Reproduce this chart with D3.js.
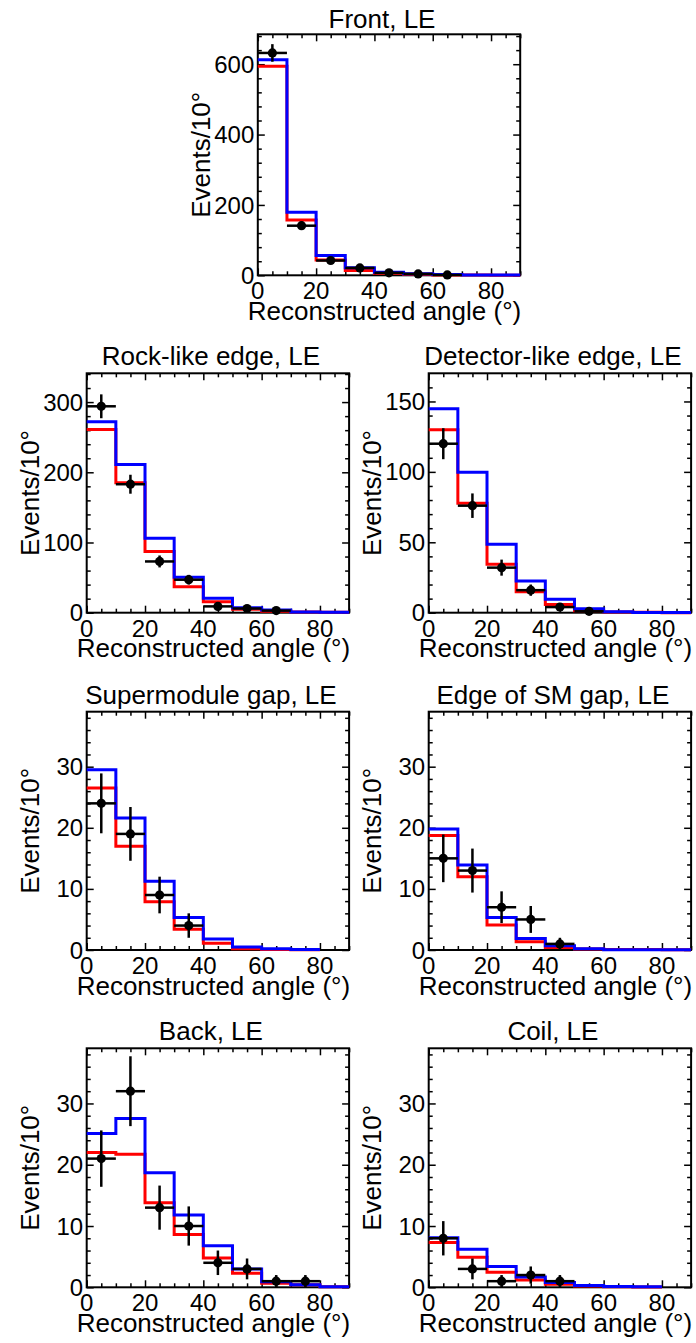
<!DOCTYPE html>
<html>
<head>
<meta charset="utf-8">
<script src="https://cdn.jsdelivr.net/npm/d3@7"></script>
<style>
  body { margin: 0; background: #fff; }
  svg { display: block; }
  text { font-family: "Liberation Sans", Arial, Helvetica, sans-serif; fill: #000; }
</style>
</head>
<body>
<svg id="chart" width="696" height="1343"></svg>
<script>
// Bin edges of the reconstructed-angle histograms (degrees)
const binEdges = [0, 10, 20, 30, 40, 50, 60, 70, 80, 90];
const xTickLabels = [0, 20, 40, 60, 80];

const panelTitles = [
  "Front, LE",
  "Rock-like edge, LE",
  "Detector-like edge, LE",
  "Supermodule gap, LE",
  "Edge of SM gap, LE",
  "Back, LE",
  "Coil, LE"
];

// Observed events per bin and their uncertainties
const frontData = [632, 141, 42, 21, 7, 4, 1];
const frontErr  = [25, 12, 6.5, 4.6, 2.6, 2, 1];
const rockData  = [294, 183, 73, 47, 9, 6, 3];
const rockErr   = [17, 13.5, 8.5, 6.9, 3, 2.4, 1.7];
const detData   = [120, 76, 32, 16, 4, 1];
const detErr    = [11, 8.7, 5.7, 4, 2, 1];
const smgData   = [24, 19, 9, 4];
const smgErr    = [4.9, 4.4, 3, 2];
const edgeData  = [15, 13, 7, 5, 1];
const edgeErr   = [3.9, 3.6, 2.6, 2.2, 1];
const backData  = [21, 32, 13, 10, 4, 3, 1, 1];
const backErr   = [4.6, 5.7, 3.6, 3.2, 2, 1.7, 1, 1];
const coilData  = [8, 3, 1, 2, 1];
const coilErr   = [2.8, 1.7, 1, 1.4, 1];

// Predicted spectra (red and blue models)
const frontRed  = [594, 157, 43.6, 13.3, 6, 3, 1, 0.5, 0];
const frontBlue = [613, 179, 56, 21.8, 8.5, 4.7, 2, 1, 0.5];
const rockRed   = [261, 185, 87, 37, 15.7, 5, 2, 1, 0.5];
const rockBlue  = [272, 211, 106, 50.5, 20.5, 7, 3.8, 1, 0.5];
const detRed    = [130, 77.7, 34.4, 14.9, 5.9, 1.4, 0.5, 0.3, 0];
const detBlue   = [144.8, 99.8, 48.6, 22.5, 9.5, 2.8, 0.7, 0.2, 0.1];
const smgRed    = [26.5, 17.0, 7.9, 3.4, 1.1, 0.2, 0.1, 0.05];
const smgBlue   = [29.5, 21.6, 11.25, 5.3, 1.8, 0.5, 0.2, 0.1];
const edgeRed   = [18.75, 12.0, 4.1, 1.36, 0.4, 0.15, 0.1, 0.1, 0.05];
const edgeBlue  = [19.8, 13.9, 5.3, 1.9, 0.7, 0.2, 0.05, 0.05, 0.05];
const backRed   = [22.0, 21.7, 13.8, 8.6, 4.8, 2.3, 0.65, 0.4, 0.1];
const backBlue  = [25.1, 27.55, 18.7, 11.8, 6.8, 3.0, 0.9, 0.4, 0.1];
const coilRed   = [7.3, 4.9, 2.45, 1.2, 0.5, 0.2, 0.1, 0.05];
const coilBlue  = [8.1, 6.2, 3.4, 1.7, 0.8, 0.3, 0.15, 0.1];

// Y axis ranges and tick labels
const yMaxes = [685, 341, 170, 39, 39, 39, 39];
const yTickLabels = [
  [0, 200, 400, 600],
  [0, 100, 200, 300],
  [0, 50, 100, 150],
  [0, 10, 20, 30],
  [0, 10, 20, 30],
  [0, 10, 20, 30],
  [0, 10, 20, 30]
];
const yMinorSteps = [40, 20, 10, 2, 2, 2, 2];

const dataSets = [frontData, rockData, detData, smgData, edgeData, backData, coilData];
const errSets  = [frontErr, rockErr, detErr, smgErr, edgeErr, backErr, coilErr];
const redSets  = [frontRed, rockRed, detRed, smgRed, edgeRed, backRed, coilRed];
const blueSets = [frontBlue, rockBlue, detBlue, smgBlue, edgeBlue, backBlue, coilBlue];

// Frame placement of each pad
const frameW = 262.4;
const colLeft = { c: 257.8, l: 86.7, r: 428.7 };
const rowTop = [34.3, 373.3, 711.7, 1048.3];
const rowH = [241, 239.4, 238.3, 239];
const placement = [
  ["c", 0], ["l", 1], ["r", 1], ["l", 2], ["r", 2], ["l", 3], ["r", 3]
];

const svg = d3.select("#chart");
const MAJOR = 7, MINOR = 4;

function tickAxis(g, axisFn, scale, values, size) {
  g.call(axisFn(scale).tickValues(values).tickSizeInner(size).tickSizeOuter(0).tickFormat(""))
   .call(s => s.select(".domain").remove())
   .call(s => s.selectAll(".tick line").attr("stroke", "#000").attr("stroke-width", 1.5));
}

panelTitles.forEach((title, i) => {
  const [col, row] = placement[i];
  const L = colLeft[col], T = rowTop[row], H = rowH[row], W = frameW;
  const R = L + W, B = T + H;

  const x = d3.scaleLinear().domain([0, 90]).range([L, R]);
  const y = d3.scaleLinear().domain([0, yMaxes[i]]).range([B, T]);

  const g = svg.append("g");

  // Frame
  g.append("rect").attr("x", L).attr("y", T).attr("width", W).attr("height", H)
    .attr("fill", "none").attr("stroke", "#000").attr("stroke-width", 2);

  // Tick marks on all four sides, pointing inward
  const xMajor = xTickLabels;
  const xMinor = d3.range(0, 91, 5).filter(v => v % 20 !== 0);
  const yMajor = yTickLabels[i];
  const yMinor = d3.range(0, yMaxes[i], yMinorSteps[i]).filter(v => !yMajor.includes(v));

  tickAxis(g.append("g").attr("transform", `translate(0,${B})`), d3.axisBottom, x, xMajor, -MAJOR);
  tickAxis(g.append("g").attr("transform", `translate(0,${B})`), d3.axisBottom, x, xMinor, -MINOR);
  tickAxis(g.append("g").attr("transform", `translate(0,${T})`), d3.axisTop, x, xMajor, -MAJOR);
  tickAxis(g.append("g").attr("transform", `translate(0,${T})`), d3.axisTop, x, xMinor, -MINOR);
  tickAxis(g.append("g").attr("transform", `translate(${L},0)`), d3.axisLeft, y, yMajor, -MAJOR);
  tickAxis(g.append("g").attr("transform", `translate(${L},0)`), d3.axisLeft, y, yMinor, -MINOR);
  tickAxis(g.append("g").attr("transform", `translate(${R},0)`), d3.axisRight, y, yMajor, -MAJOR);
  tickAxis(g.append("g").attr("transform", `translate(${R},0)`), d3.axisRight, y, yMinor, -MINOR);

  // Tick labels
  g.selectAll(".xl").data(xTickLabels).join("text")
    .attr("x", d => x(d)).attr("y", B + 24)
    .attr("text-anchor", "middle").attr("font-size", 24).text(d => d);
  g.selectAll(".yl").data(yTickLabels[i]).join("text")
    .attr("x", L - 3.5).attr("y", d => y(d) + 8.6)
    .attr("text-anchor", "end").attr("font-size", 24).text(d => d);

  // Axis titles and pad title
  g.append("text").attr("x", R + 1).attr("y", B + 44.5)
    .attr("text-anchor", "end").attr("font-size", 26).text("Reconstructed angle (°)");
  g.append("text").attr("transform", `translate(${L - 48},${T + H / 2}) rotate(-90)`)
    .attr("text-anchor", "middle").attr("font-size", 26).text("Events/10°");
  g.append("text").attr("x", L + W / 2 - 7).attr("y", T - (i === 0 ? 6 : 8))
    .attr("text-anchor", "middle").attr("font-size", 26).text(title);

  // Step histograms
  const stepPath = vals => {
    let d = `M${x(binEdges[0])},${y(vals[0])}`;
    vals.forEach((v, k) => {
      if (k > 0) d += `V${y(v)}`;
      d += `H${x(binEdges[k + 1])}`;
    });
    return d;
  };
  [[redSets[i], "#ff0000"], [blueSets[i], "#0000ff"]].forEach(([vals, color]) => {
    g.append("path").attr("d", stepPath(vals))
      .attr("fill", "none").attr("stroke", color).attr("stroke-width", 3)
      .attr("stroke-linejoin", "miter");
  });

  // Data points with error bars
  const pts = dataSets[i].map((v, k) => ({
    v, e: errSets[i][k], lo: binEdges[k], hi: binEdges[k + 1], c: (binEdges[k] + binEdges[k + 1]) / 2
  }));
  const pg = g.append("g");
  pg.selectAll(".eh").data(pts).join("line")
    .attr("x1", d => x(d.lo)).attr("x2", d => x(d.hi))
    .attr("y1", d => y(d.v)).attr("y2", d => y(d.v))
    .attr("stroke", "#000").attr("stroke-width", 2.5);
  pg.selectAll(".ev").data(pts).join("line")
    .attr("x1", d => x(d.c)).attr("x2", d => x(d.c))
    .attr("y1", d => y(Math.max(0, d.v - d.e))).attr("y2", d => y(d.v + d.e))
    .attr("stroke", "#000").attr("stroke-width", 2.5);
  pg.selectAll("circle").data(pts).join("circle")
    .attr("cx", d => x(d.c)).attr("cy", d => y(d.v)).attr("r", 4.6)
    .attr("fill", "#000");
});
</script>
</body>
</html>
